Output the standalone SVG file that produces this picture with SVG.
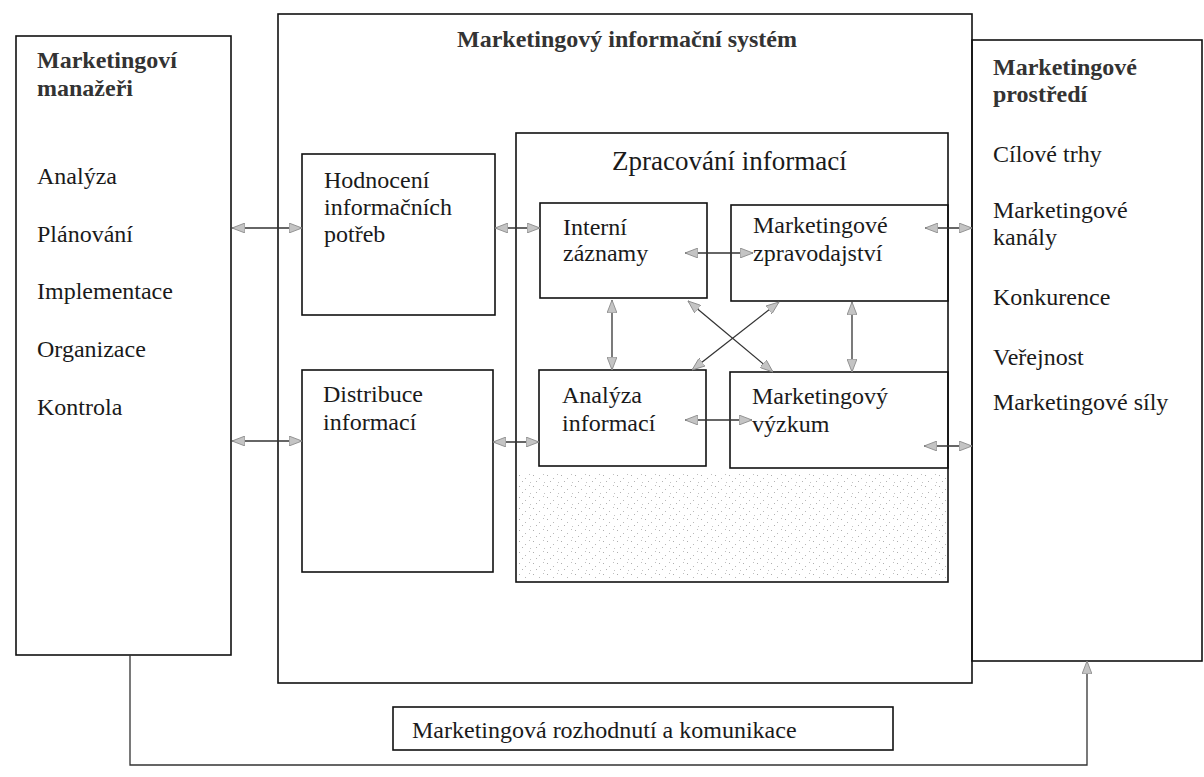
<svg xmlns="http://www.w3.org/2000/svg" width="1204" height="777" viewBox="0 0 1204 777">
  <defs>
    <style>
      .box { fill: none; stroke: #111; stroke-width: 1.6; }
      .lbl { font-family: "Liberation Serif", "Times New Roman", serif; font-size: 24px; fill: #1a1a1a; }
      .hdr { font-family: "Liberation Serif", "Times New Roman", serif; font-size: 24px; font-weight: bold; fill: #333; }
      .big { font-size: 27px; }
      .link { fill: none; stroke: #333; stroke-width: 1.3; }
    </style>
    <marker id="head" viewBox="0 0 13 10" refX="13" refY="5" markerWidth="13" markerHeight="10" markerUnits="userSpaceOnUse" orient="auto-start-reverse">
      <path d="M0,0 L13,5 L0,10 Z" fill="#c4c4c4" stroke="#8c8c8c" stroke-width="0.9"/>
    </marker>
    <pattern id="grain" width="14" height="11" patternUnits="userSpaceOnUse">
      <rect x="1" y="2" width="1" height="1" fill="#9a9a9a"/>
      <rect x="7" y="5" width="1" height="1" fill="#a8a8a8"/>
      <rect x="11" y="1" width="1" height="1" fill="#b0b0b0"/>
      <rect x="4" y="8" width="1" height="1" fill="#a0a0a0"/>
      <rect x="12" y="9" width="1" height="1" fill="#b4b4b4"/>
    </pattern>
  </defs>

  <rect width="1204" height="777" fill="#fff"/>

  <!-- light grain in the lower part of the processing panel -->
  <rect x="518" y="472" width="428" height="108" fill="url(#grain)" opacity="0.8"/>

  <g id="managers">
    <rect class="box" x="16" y="36" width="215" height="619"/>
    <text class="hdr" x="37" y="68">Marketingoví</text>
    <text class="hdr" x="37" y="96">manažeři</text>
    <text class="lbl" x="37" y="184">Analýza</text>
    <text class="lbl" x="37" y="242">Plánování</text>
    <text class="lbl" x="37" y="299">Implementace</text>
    <text class="lbl" x="37" y="357">Organizace</text>
    <text class="lbl" x="37" y="415">Kontrola</text>
  </g>

  <g id="mis">
    <rect class="box" x="278" y="14" width="694" height="669"/>
    <text class="hdr" x="627" y="47" text-anchor="middle">Marketingový informační systém</text>
  </g>

  <g id="needs">
    <rect class="box" x="302" y="154" width="193" height="161"/>
    <text class="lbl" x="324" y="188">Hodnocení</text>
    <text class="lbl" x="324" y="215">informačních</text>
    <text class="lbl" x="324" y="242">potřeb</text>
  </g>

  <g id="distribution">
    <rect class="box" x="302" y="370" width="191" height="202"/>
    <text class="lbl" x="323" y="402">Distribuce</text>
    <text class="lbl" x="323" y="430">informací</text>
  </g>

  <g id="processing">
    <rect class="box" x="516" y="133" width="432" height="449"/>
    <text class="lbl big" x="612" y="170">Zpracování informací</text>
  </g>

  <g id="records">
    <rect class="box" x="540" y="203" width="167" height="95"/>
    <text class="lbl" x="563" y="235">Interní</text>
    <text class="lbl" x="563" y="261">záznamy</text>
  </g>

  <g id="intelligence">
    <rect class="box" x="731" y="205" width="217" height="96"/>
    <text class="lbl" x="753" y="233">Marketingové</text>
    <text class="lbl" x="753" y="261">zpravodajství</text>
  </g>

  <g id="analysis">
    <rect class="box" x="539" y="370" width="167" height="96"/>
    <text class="lbl" x="562" y="403">Analýza</text>
    <text class="lbl" x="562" y="431">informací</text>
  </g>

  <g id="research">
    <rect class="box" x="730" y="372" width="218" height="96"/>
    <text class="lbl" x="752" y="404">Marketingový</text>
    <text class="lbl" x="752" y="432">výzkum</text>
  </g>

  <g id="environment">
    <rect class="box" x="972" y="40" width="230" height="621"/>
    <text class="hdr" x="993" y="75">Marketingové</text>
    <text class="hdr" x="993" y="102">prostředí</text>
    <text class="lbl" x="993" y="162">Cílové trhy</text>
    <text class="lbl" x="993" y="218">Marketingové</text>
    <text class="lbl" x="993" y="245">kanály</text>
    <text class="lbl" x="993" y="305">Konkurence</text>
    <text class="lbl" x="993" y="365">Veřejnost</text>
    <text class="lbl" x="993" y="410">Marketingové síly</text>
  </g>

  <g id="decisions">
    <rect class="box" x="393" y="707" width="500" height="43"/>
    <text class="lbl" x="412" y="738">Marketingová rozhodnutí a komunikace</text>
  </g>

  <g id="connectors">
    <line class="link" x1="232" y1="228" x2="302" y2="228" marker-start="url(#head)" marker-end="url(#head)"/>
    <line class="link" x1="495" y1="228" x2="540" y2="228" marker-start="url(#head)" marker-end="url(#head)"/>
    <line class="link" x1="685" y1="253" x2="753" y2="253" marker-start="url(#head)" marker-end="url(#head)"/>
    <line class="link" x1="925" y1="228" x2="972" y2="228" marker-start="url(#head)" marker-end="url(#head)"/>
    <line class="link" x1="232" y1="441" x2="302" y2="441" marker-start="url(#head)" marker-end="url(#head)"/>
    <line class="link" x1="493" y1="442" x2="539" y2="442" marker-start="url(#head)" marker-end="url(#head)"/>
    <line class="link" x1="685" y1="420" x2="752" y2="420" marker-start="url(#head)" marker-end="url(#head)"/>
    <line class="link" x1="924" y1="446" x2="972" y2="446" marker-start="url(#head)" marker-end="url(#head)"/>
    <line class="link" x1="612" y1="300" x2="612" y2="370" marker-start="url(#head)" marker-end="url(#head)"/>
    <line class="link" x1="852" y1="302" x2="852" y2="372" marker-start="url(#head)" marker-end="url(#head)"/>
    <line class="link" x1="688" y1="301" x2="773" y2="372" marker-start="url(#head)" marker-end="url(#head)"/>
    <line class="link" x1="692" y1="370" x2="779" y2="302" marker-start="url(#head)" marker-end="url(#head)"/>
    <polyline class="link" points="130,655 130,765 1087,765 1087,661" marker-end="url(#head)"/>
  </g>
</svg>
